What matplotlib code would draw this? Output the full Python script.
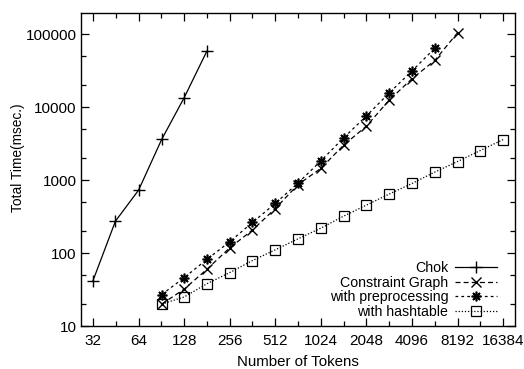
import matplotlib
matplotlib.use("Agg")
import matplotlib.pyplot as plt
from matplotlib.ticker import FixedLocator, NullFormatter

plt.rcParams['font.family'] = ['Liberation Sans', 'DejaVu Sans']
plt.rcParams['font.size'] = 11

# Chok
chok_x = [32, 45, 64, 91, 128, 181]
chok_y = [42, 274, 730, 3630, 13500, 59000]

# Constraint Graph
cg_x = [91, 128, 181, 256, 362, 512, 724, 1024, 1448, 2048, 2896, 4096, 5793, 8192]
cg_y = [20, 32, 60, 118, 207, 408, 870, 1450, 3020, 5500, 12500, 24600, 43800, 105000]

# with preprocessing
pre_x = [91, 128, 181, 256, 362, 512, 724, 1024, 1448, 2048, 2896, 4096, 5793]
pre_y = [27, 46, 82, 143, 263, 480, 915, 1835, 3800, 7600, 15700, 31400, 64500]

# with hashtable
hash_x = [91, 128, 181, 256, 362, 512, 724, 1024, 1448, 2048, 2896, 4096, 5793,
          8192, 11585, 16384]
hash_y = [20, 25, 38, 54, 79, 111, 157, 220, 321, 455, 645, 900, 1290,
          1800, 2550, 3600]

x_ticks = [32, 64, 128, 256, 512, 1024, 2048, 4096, 8192, 16384]
x_minor = [45.25, 90.5, 181, 362, 724, 1448, 2896, 5793, 11585]
y_ticks = [10, 100, 1000, 10000, 100000]
y_minor = [20, 50, 200, 500, 2000, 5000, 20000, 50000]

fig = plt.figure(figsize=(5.24, 3.69), dpi=100)
ax = fig.add_axes([0.1546, 0.1165, 0.8284, 0.8483])

lw = 0.9
ax.plot(chok_x, chok_y, color="black", lw=lw, ls="-", marker="+",
        ms=8, mew=1.0, label="Chok")
ax.plot(cg_x, cg_y, color="black", lw=lw, ls=(0, (4, 2.5)), marker="x",
        ms=7, mew=1.0, label="Constraint Graph")
ax.plot(pre_x, pre_y, color="black", lw=lw, ls=(0, (2.2, 2.5)), marker=(8, 2, 0),
        ms=7, mew=1.2, label="with preprocessing")
ax.plot(hash_x, hash_y, color="black", lw=lw, ls=(0, (1, 1.5)), marker="s",
        ms=6.5, mew=0.9, mfc="none", label="with hashtable")

ax.set_xscale("log", base=2)
ax.set_yscale("log")
ax.set_xlim(26.66, 19660)
ax.set_ylim(10, 196000)

ax.xaxis.set_major_locator(FixedLocator(x_ticks))
ax.xaxis.set_minor_locator(FixedLocator(x_minor))
ax.set_xticklabels([str(t) for t in x_ticks])
ax.xaxis.set_minor_formatter(NullFormatter())
ax.yaxis.set_major_locator(FixedLocator(y_ticks))
ax.yaxis.set_minor_locator(FixedLocator(y_minor))
ax.set_yticklabels([str(t) for t in y_ticks])
ax.yaxis.set_minor_formatter(NullFormatter())

ax.tick_params(which="both", direction="in", top=True, right=True, width=0.9)
ax.tick_params(which="major", length=6)
ax.tick_params(axis="x", which="major", pad=6)
ax.tick_params(axis="y", which="major", pad=3)
ax.tick_params(which="minor", length=3.5)
for s in ax.spines.values():
    s.set_linewidth(1.0)

ax.set_xlabel("Number of Tokens", fontsize=10.8)
ax.xaxis.set_label_coords(0.5, -0.093)
ax.set_ylabel("Total Time(msec.)", fontsize=9.9)
ax.yaxis.set_label_coords(-0.129, 0.538)

ax.legend(loc="lower right", frameon=False, markerfirst=False, fontsize=10.2,
          handlelength=3.0, handletextpad=0.45, labelspacing=0.05,
          borderpad=0, borderaxespad=0, bbox_to_anchor=(0.9585, 0.022))

fig.savefig("out.png", dpi=100)
